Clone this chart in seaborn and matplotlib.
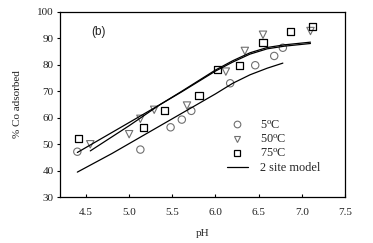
import matplotlib
matplotlib.use("Agg")
import matplotlib.pyplot as plt
import seaborn as sns
from matplotlib.lines import Line2D

# Dados
ph_5 = [4.40, 5.13, 5.48, 5.61, 5.72, 6.17, 6.46, 6.68, 6.78]
ads_5 = [47.2, 48.0, 56.4, 59.3, 62.6, 73.0, 79.8, 83.3, 86.4]
ph_50 = [4.55, 5.00, 5.13, 5.29, 5.67, 6.12, 6.34, 6.55, 7.10]
ads_50 = [50.0, 53.8, 59.6, 63.0, 64.6, 77.4, 85.2, 91.3, 92.7]
ph_75 = [4.41, 5.17, 5.41, 5.81, 6.02, 6.28, 6.55, 6.87, 7.12]
ads_75 = [52.1, 56.3, 62.7, 68.5, 78.3, 79.8, 88.4, 92.5, 94.5]

# Curvas do modelo de 2 sítios
mod_ph_5 = [4.40, 4.80, 5.20, 5.60, 6.00, 6.20, 6.40, 6.60, 6.78]
mod_ads_5 = [39.5, 46.5, 54.0, 61.5, 69.0, 73.0, 76.2, 78.7, 80.6]
mod_ph_50 = [4.55, 5.00, 5.36, 5.60, 6.00, 6.20, 6.40, 6.60, 6.80, 7.10]
mod_ads_50 = [47.5, 57.0, 65.0, 69.6, 77.6, 81.0, 84.0, 86.0, 87.0, 88.0]
mod_ph_75 = [4.40, 5.00, 5.36, 5.60, 6.00, 6.20, 6.40, 6.60, 6.80, 7.10]
mod_ads_75 = [46.9, 58.2, 65.0, 69.8, 78.0, 81.5, 84.5, 86.5, 87.5, 88.5]

labels = ["5$^{\\mathregular{o}}$C", "50$^{\\mathregular{o}}$C", "75$^{\\mathregular{o}}$C", "2 site model"]

sns.set_style("ticks")
plt.rcParams["font.family"] = ["Liberation Serif", "DejaVu Serif"]
plt.rcParams["mathtext.default"] = "regular"

fig = plt.figure(figsize=(3.73, 2.43), dpi=100)
ax = fig.add_axes([0.161, 0.188, 0.764, 0.764])

# Linhas do modelo
for xs, ys in [(mod_ph_5, mod_ads_5), (mod_ph_50, mod_ads_50), (mod_ph_75, mod_ads_75)]:
    sns.lineplot(x=xs, y=ys, ax=ax, color="black", linewidth=0.9,
                 sort=False, estimator=None)

# Pontos experimentais
sns.scatterplot(x=ph_5, y=ads_5, ax=ax, marker="o", s=28,
                facecolor="none", edgecolor="#707070", linewidth=0.8)
sns.scatterplot(x=ph_50, y=ads_50, ax=ax, marker="v", s=28,
                facecolor="none", edgecolor="#707070", linewidth=0.8)
sns.scatterplot(x=ph_75, y=ads_75, ax=ax, marker="s", s=28,
                facecolor="none", edgecolor="black", linewidth=0.9)

ax.set_xlim(4.2, 7.5)
ax.set_ylim(30, 100)
ax.set_xticks([4.5, 5.0, 5.5, 6.0, 6.5, 7.0, 7.5])
ax.set_xticklabels(["4.5", "5.0", "5.5", "6.0", "6.5", "7.0", "7.5"])
ax.set_yticks(range(30, 101, 10))
ax.tick_params(axis="x", direction="in", length=2.5, width=0.8, labelsize=8,
               pad=8, colors="black", labelcolor="#222222")
ax.tick_params(axis="y", direction="out", length=2.5, width=0.8, labelsize=8,
               pad=2, colors="black", labelcolor="#222222")
for sp in ax.spines.values():
    sp.set_linewidth(0.9)
    sp.set_color("black")

ax.set_xlabel("pH", fontsize=8, labelpad=8, color="#222222")
ax.set_ylabel("% Co adsorbed", fontsize=8, labelpad=11, color="#222222")

ax.text(0.135, 0.89, "(b)", transform=ax.transAxes, fontsize=8.5,
        family=["Liberation Sans", "DejaVu Sans"], ha="center", va="center",
        color="#222222")

handles = [
    Line2D([], [], linestyle="none", marker="o", markersize=4.8,
           markerfacecolor="none", markeredgecolor="#707070", markeredgewidth=0.8),
    Line2D([], [], linestyle="none", marker="v", markersize=4.8,
           markerfacecolor="none", markeredgecolor="#707070", markeredgewidth=0.8),
    Line2D([], [], linestyle="none", marker="s", markersize=4.5,
           markerfacecolor="none", markeredgecolor="black", markeredgewidth=0.9),
    Line2D([], [], color="black", linewidth=0.9),
]
ax.legend(handles, labels, loc="upper left", bbox_to_anchor=(0.585, 0.42),
          frameon=False, fontsize=8.8, handlelength=1.7, handletextpad=1.0,
          labelspacing=0.15, borderpad=0, borderaxespad=0)

fig.savefig("out.png", dpi=100)
